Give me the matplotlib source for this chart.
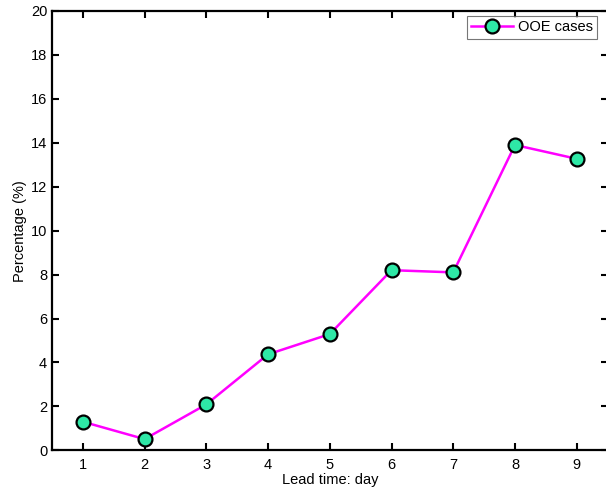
import matplotlib
matplotlib.use("Agg")
import matplotlib.pyplot as plt

plt.rcParams['font.family'] = ['Liberation Sans', 'DejaVu Sans']

lead_days = [1, 2, 3, 4, 5, 6, 7, 8, 9]
ooe_pct = [1.30, 0.51, 2.09, 4.37, 5.29, 8.2, 8.1, 13.9, 13.27]
yticks = [0, 2, 4, 6, 8, 10, 12, 14, 16, 18, 20]

fig = plt.figure(figsize=(6.06, 4.90), dpi=100)
ax = fig.add_axes([0.0858, 0.081, 0.9168, 0.8966])

ax.plot(lead_days, ooe_pct, color='#ff00ff', linewidth=1.8, marker='o',
        markersize=10, markerfacecolor='#2ee8a6', markeredgecolor='black',
        markeredgewidth=1.6, label='OOE cases')

ax.set_xlim(0.5, 9.5)
ax.set_ylim(0, 20)
ax.set_xticks(lead_days)
ax.set_yticks(yticks)
ax.tick_params(direction='in', length=5, width=1.5, top=True, right=True,
               labelsize=10.5)
ax.tick_params(axis='x', pad=5.5)
ax.tick_params(axis='y', pad=3.5)
for s in ax.spines.values():
    s.set_linewidth(1.6)

ax.set_xlabel('Lead time: day', fontsize=10.5, labelpad=1)
ax.set_ylabel('Percentage (%)', fontsize=10.5, labelpad=2.5)

leg = ax.legend(loc='upper right', bbox_to_anchor=(0.981, 0.989), borderaxespad=0,
                fontsize=10.5, fancybox=False, edgecolor='#555555',
                handlelength=2.9, handletextpad=0.3, borderpad=0.3)
leg.get_frame().set_linewidth(0.8)

fig.savefig('out.png', dpi=100)
